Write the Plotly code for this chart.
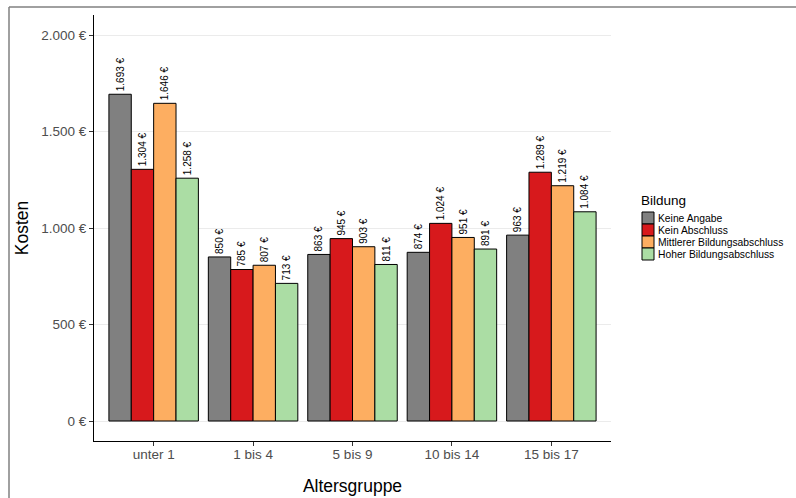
import plotly.graph_objects as go

categories = ["unter 1", "1 bis 4", "5 bis 9", "10 bis 14", "15 bis 17"]
series_names = ["Keine Angabe", "Kein Abschluss", "Mittlerer Bildungsabschluss", "Hoher Bildungsabschluss"]
keine_angabe = [1693, 850, 863, 874, 963]
kein_abschluss = [1304, 785, 945, 1024, 1289]
mittlerer = [1646, 807, 903, 951, 1219]
hoher = [1258, 713, 811, 891, 1084]
colors = ["#808080", "#D7191C", "#FDAE61", "#ABDDA4"]
y_ticks = [0, 500, 1000, 1500, 2000]
y_ticklabels = ["0 €", "500 €", "1.000 €", "1.500 €", "2.000 €"]
legend_title = "Bildung"


def euro(v):
    return f"{v:,}".replace(",", ".") + " €"


FONT = "Liberation Sans, Arial, sans-serif"
W, H = 796, 498
ML, MR, MT, MB = 94, 185, 15, 57
PW, PH = W - ML - MR, H - MT - MB


def px_x(x):
    return (x - ML) / PW


def px_y(y):
    return (H - MB - y) / PH


fig = go.Figure()
for name, vals, col in zip(series_names, [keine_angabe, kein_abschluss, mittlerer, hoher], colors):
    fig.add_trace(go.Bar(
        x=categories, y=vals, name=name,
        marker=dict(color=col, line=dict(color="black", width=1)),
        text=[euro(v) for v in vals],
        textposition="outside", textangle=-90,
        textfont=dict(size=10, color="black", family=FONT),
        constraintext="none", cliponaxis=False,
        showlegend=False,
    ))

fig.update_layout(
    width=W, height=H,
    margin=dict(l=ML, r=MR, t=MT, b=MB, autoexpand=False),
    paper_bgcolor="white", plot_bgcolor="white",
    barmode="group", bargap=0.1, bargroupgap=0,
    font=dict(family=FONT, color="#4D4D4D"),
    xaxis=dict(
        type="category", range=[-0.6, 4.6], automargin=False,
        showline=True, linecolor="black", linewidth=1.2,
        ticks="outside", ticklen=4, tickcolor="#333333",
        ticklabelstandoff=-3,
        tickfont=dict(size=13.5, color="#4D4D4D"),
        showgrid=False, zeroline=False,
        title=dict(text="Altersgruppe", font=dict(size=17.5, color="black"), standoff=18),
    ),
    yaxis=dict(
        range=[-103.6, 2103.6], automargin=False,
        tickvals=y_ticks, ticktext=y_ticklabels,
        showline=True, linecolor="black", linewidth=1.2,
        ticks="outside", ticklen=4, tickcolor="#333333",
        tickfont=dict(size=13.5, color="#4D4D4D"),
        showgrid=True, gridcolor="#EBEBEB", gridwidth=1,
        zeroline=False,
        title=dict(text="Kosten", font=dict(size=17.5, color="black"), standoff=8),
    ),
    showlegend=False,
)

# manual legend (ggplot-style compact keys)
fig.add_annotation(xref="paper", yref="paper", x=px_x(639), y=px_y(200), xanchor="left", yanchor="middle",
                   text=legend_title, showarrow=False, font=dict(size=13.5, color="black", family=FONT))
for i, (name, col) in enumerate(zip(series_names, colors)):
    top = 212 + 12 * i
    fig.add_shape(type="rect", xref="paper", yref="paper",
                  x0=px_x(642), x1=px_x(654), y0=px_y(top), y1=px_y(top + 12),
                  fillcolor=col, line=dict(color="black", width=1))
    fig.add_annotation(xref="paper", yref="paper", x=px_x(656), y=px_y(top + 6), xanchor="left", yanchor="middle",
                       text=name, showarrow=False, font=dict(size=10.3, color="black", family=FONT))

# outer partial frame (top and left edges)
fig.add_shape(type="line", xref="paper", yref="paper", x0=px_x(9), x1=px_x(800), y0=px_y(7), y1=px_y(7),
              line=dict(color="#808080", width=1.5))
fig.add_shape(type="line", xref="paper", yref="paper", x0=px_x(9), x1=px_x(9), y0=px_y(7), y1=px_y(505),
              line=dict(color="#808080", width=1.5))

fig.write_html("out.html", config={"displayModeBar": False},
               post_script="document.body.style.margin='0';")
